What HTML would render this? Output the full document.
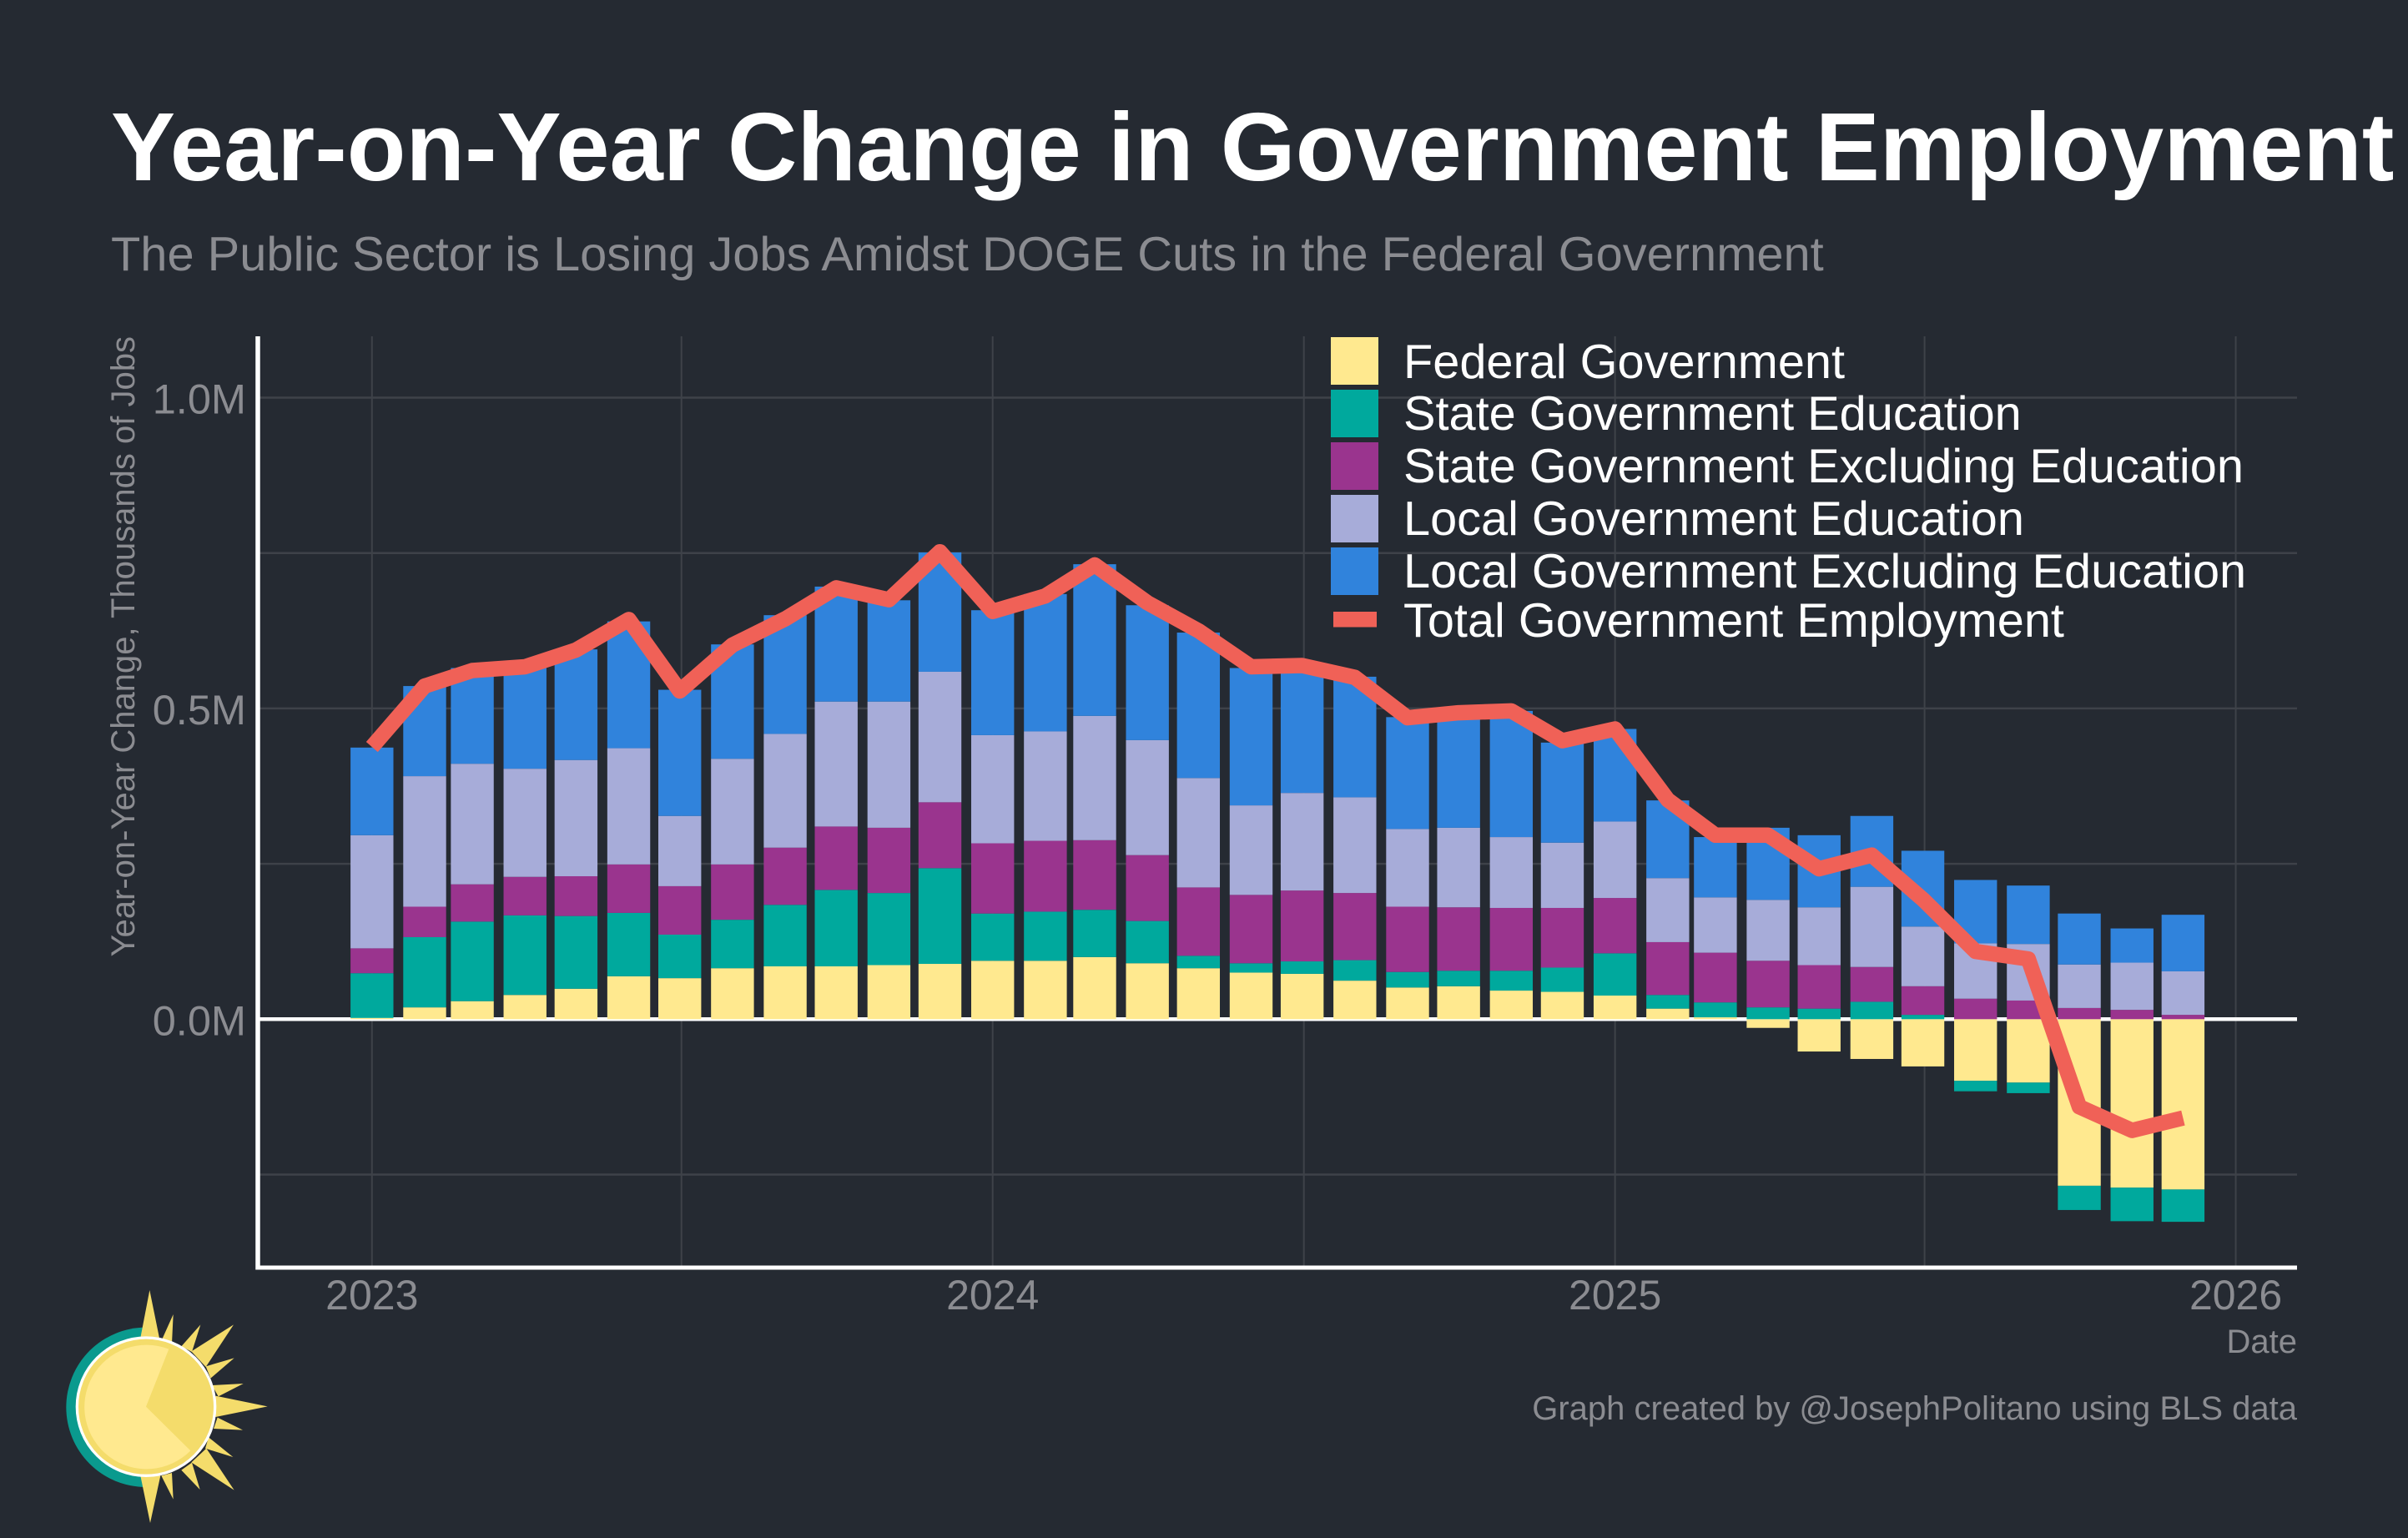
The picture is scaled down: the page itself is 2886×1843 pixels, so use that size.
<!DOCTYPE html>
<html lang="en">
<head>
<meta charset="utf-8">
<title>Year-on-Year Change in Government Employment</title>
<style>
html,body{margin:0;padding:0;background:#252A32;}
body{width:2886px;height:1843px;overflow:hidden;}
svg{display:block;font-family:"Liberation Sans",Arial,sans-serif;}
</style>
</head>
<body>
<svg id="chart" xmlns="http://www.w3.org/2000/svg" width="2886" height="1843" viewBox="0 0 2886 1843">
  <rect x="0" y="0" width="2886" height="1843" fill="#252A32"/>
  <text x="133" y="216" font-size="115.6" font-weight="700" fill="#ffffff">Year-on-Year Change in Government Employment</text>
  <text x="133" y="324" font-size="57.8" fill="#8b8c91">The Public Sector is Losing Jobs Amidst DOGE Cuts in the Federal Government</text>
  <g id="grid"></g>
  <line x1="309" x2="2753" y1="1221.3" y2="1221.3" stroke="#ffffff" stroke-width="4.5"/>
  <g id="bars"></g>
  <polyline id="total-line" fill="none" stroke="#F06157" stroke-width="18.5" stroke-linejoin="round" stroke-linecap="butt"/>
  <line x1="309" x2="309" y1="403" y2="1521.5" stroke="#ffffff" stroke-width="5.5"/>
  <line x1="306.5" x2="2753" y1="1519" y2="1519" stroke="#ffffff" stroke-width="5"/>
  <g id="ticks" fill="#8b8c91" font-size="50"></g>
  <text transform="translate(161,403) rotate(-90)" text-anchor="end" font-size="40" fill="#8b8c91">Year-on-Year Change, Thousands of Jobs</text>
  <text x="2753" y="1621" text-anchor="end" font-size="40" fill="#8b8c91">Date</text>
  <text x="2753" y="1701" text-anchor="end" font-size="40" fill="#8b8c91">Graph created by @JosephPolitano using BLS data</text>

  <g font-size="57.7" fill="#ffffff">
    <rect x="1595" y="404" width="57" height="57" fill="#FFE98F"/>
    <text x="1682" y="453">Federal Government</text>
    <rect x="1595" y="467" width="57" height="57" fill="#00A99D"/>
    <text x="1682" y="515">State Government Education</text>
    <rect x="1595" y="530" width="57" height="57" fill="#9A348E"/>
    <text x="1682" y="578">State Government Excluding Education</text>
    <rect x="1595" y="593" width="57" height="57" fill="#A7ACD9"/>
    <text x="1682" y="641">Local Government Education</text>
    <rect x="1595" y="656" width="57" height="57" fill="#3083DC"/>
    <text x="1682" y="704">Local Government Excluding Education</text>
    <rect x="1598" y="733" width="52" height="18.5" fill="#F06157"/>
    <text x="1682" y="763">Total Government Employment</text>
  </g>

  <g transform="translate(0,1500) scale(0.33333)">
    <path d="M525 272 A287 287 0 0 0 525 846 Z" fill="#0A9A8E"/>
    <g fill="#F4DC6B">
      <polygon points="538,138 503,320 575,320"/>
      <polygon points="623,225 578,325 618,330"/>
      <polygon points="721,262 652,340 690,360"/>
      <polygon points="840,262 688,358 740,414"/>
      <polygon points="842,382 740,412 757,455"/>
      <polygon points="875,474 762,480 785,520"/>
      <polygon points="962,556 775,518 775,594"/>
      <polygon points="873,641 782,596 768,636"/>
      <polygon points="838,738 750,667 738,707"/>
      <polygon points="842,857 742,707 688,757"/>
      <polygon points="719,855 690,758 652,785"/>
      <polygon points="623,890 618,795 580,805"/>
      <polygon points="540,975 577,805 505,805"/>
    </g>
    <circle cx="525" cy="557" r="248" fill="#F4DC6B" stroke="#ffffff" stroke-width="10"/>
    <path d="M525 557 L607 350 A223 223 0 1 0 685 715 Z" fill="#FFE98F"/>
  </g>
</svg>
<script>
// Chart data, thousands of jobs
var months = ["2023-01-01","2023-02-01","2023-03-01","2023-04-01","2023-05-01","2023-06-01","2023-07-01","2023-08-01","2023-09-01","2023-10-01","2023-11-01","2023-12-01","2024-01-01","2024-02-01","2024-03-01","2024-04-01","2024-05-01","2024-06-01","2024-07-01","2024-08-01","2024-09-01","2024-10-01","2024-11-01","2024-12-01","2025-01-01","2025-02-01","2025-03-01","2025-04-01","2025-05-01","2025-06-01","2025-07-01","2025-08-01","2025-09-01","2025-10-01","2025-11-01","2025-12-01"];
var federal = [2,19,29,39,49,69,66,82,85,85,87,89,94,94,100,90,82,75,73,62,51,53,46,44,38,17,3,-14,-52,-64,-76,-99,-102,-268,-271,-274];
var stateEducation = [72,113,128,128,117,102,70,78,99,123,116,154,76,79,76,68,20,15,20,33,25,25,32,39,68,22,24,19,17,28,7,-17,-17,-39,-54,-52];
var stateExcludingEducation = [40,49,60,62,64,78,78,89,92,102,105,106,113,114,112,106,110,110,114,108,105,102,101,96,89,85,80,75,70,56,46,33,30,18,15,7];
var localEducation = [182,210,194,174,187,187,113,170,183,201,203,210,174,176,200,185,176,144,157,154,125,128,114,105,123,103,89,98,93,129,96,89,91,70,76,70];
var localExcludingEducation = [141,145,154,168,178,204,203,184,191,185,163,192,201,221,244,217,234,221,203,194,180,185,203,161,149,125,97,116,116,114,122,102,94,82,55,91];
var totalEmployment = [438,536,561,567,594,643,528,602,644,694,675,752,656,681,731,670,625,567,569,550,485,493,496,448,467,353,296,296,242,264,193,109,97,-141,-179,-159];
var yLabelValues = [0,500,1000];
var yLabelTexts = ["0.0M","0.5M","1.0M"];
var yGridValues = [-250,250,750];
var xLabelDates = ["2023-01-01","2024-01-01","2025-01-01","2026-01-01"];
var xLabelTexts = ["2023","2024","2025","2026"];
var xGridDates = ["2023-07-02","2024-07-02","2025-07-02"];

var NS = "http://www.w3.org/2000/svg";
var seriesNames = ["federal","state-education","state-excluding-education","local-education","local-excluding-education"];
var seriesColors = ["#FFE98F","#00A99D","#9A348E","#A7ACD9","#3083DC"];
var seriesValues = [federal,stateEducation,stateExcludingEducation,localEducation,localExcludingEducation];

function xScale(dateString){
  var days = (Date.parse(dateString) - Date.parse("2023-01-01")) / 86400000;
  return 445.8 + days * 2.0381;
}
function yScale(value){
  return 1221.3 - value * 0.7448;
}
function make(tag, attrs){
  var el = document.createElementNS(NS, tag);
  for (var k in attrs) { el.setAttribute(k, attrs[k]); }
  return el;
}

var gridGroup = document.getElementById("grid");
var gridColor = "#3E4249";
yLabelValues.concat(yGridValues).forEach(function(v){
  var gl = make("line", {x1:311, x2:2753, y1:yScale(v), y2:yScale(v), stroke:gridColor, "stroke-width":2.5});
  
  
  gridGroup.appendChild(gl);
});
xLabelDates.concat(xGridDates).forEach(function(d){
  var gl = make("line", {x1:xScale(d), x2:xScale(d), y1:403, y2:1517, stroke:gridColor, "stroke-width":2});
  
  
  gridGroup.appendChild(gl);
});

var barsGroup = document.getElementById("bars");
var barWidth = 51.4;
months.forEach(function(m, i){
  var posBase = 0, negBase = 0;
  seriesValues.forEach(function(series, s){
    var v = series[i];
    var from, to;
    if (v >= 0) { from = posBase; to = posBase + v; posBase = to; }
    else { from = negBase; to = negBase + v; negBase = to; }
    var top = yScale(Math.max(from, to));
    var bottom = yScale(Math.min(from, to));
    var bar = make("rect", {x:xScale(m) - barWidth / 2, y:top, width:barWidth, height:bottom - top, fill:seriesColors[s]});
    
    
    barsGroup.appendChild(bar);
  });
});

document.getElementById("total-line").setAttribute("points", months.map(function(m, i){
  return xScale(m).toFixed(1) + "," + yScale(totalEmployment[i]).toFixed(1);
}).join(" "));

var ticksGroup = document.getElementById("ticks");
yLabelValues.forEach(function(v, i){
  var t = make("text", {x:295, y:yScale(v) + 19, "text-anchor":"end", "font-size":50.5});
  t.textContent = yLabelTexts[i];
  
  
  ticksGroup.appendChild(t);
});
xLabelDates.forEach(function(d, i){
  var t = make("text", {x:xScale(d), y:1569, "text-anchor":"middle"});
  t.textContent = xLabelTexts[i];
  
  
  ticksGroup.appendChild(t);
});
</script>
</body>
</html>
